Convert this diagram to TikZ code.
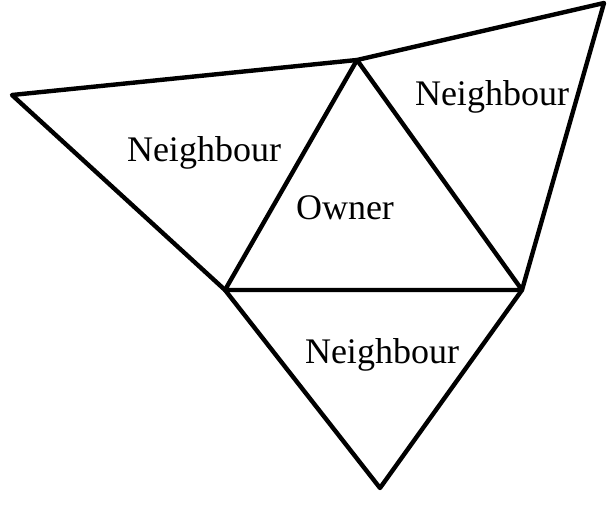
\documentclass[tikz,border=0pt]{standalone}
\usepackage{fontspec}
\setmainfont{Liberation Serif}
\usetikzlibrary{calc}

\begin{document}
\begin{tikzpicture}[x=1pt, y=-1pt]
    \useasboundingbox (0, 0) rectangle (608, 518);
    \tikzset{edge/.style={line width=4.4pt, line join=round, line cap=round}}
    \tikzset{lbl/.style={font=\fontsize{36}{42}\selectfont, inner sep=0pt}}
    
    \coordinate (a1) at (12, 95);
    \coordinate (a2) at (357, 60);
    \coordinate (a3) at (604, 3);
    \coordinate (a4) at (225, 290);
    \coordinate (a5) at (522, 290);
    \coordinate (a6) at (380, 488);
    
    \draw [edge] (a1) -- (a2) -- (a3) -- (a5) -- (a6) -- (a4) -- cycle;
    \draw [edge] (a4) -- (a2) -- (a5) -- (a4);
    
    \node[lbl] (n1) at (204, 153) {Neighbour};
    \node[lbl] (n2) at (492, 97) {Neighbour};
    \node[lbl] (own) at (345, 208) {Owner};
    \node[lbl] (n3) at (382, 355) {Neighbour};
    %\filldraw (a1) circle (2pt);
    %\filldraw (a6) circle (2pt);
\end{tikzpicture}
\end{document}
